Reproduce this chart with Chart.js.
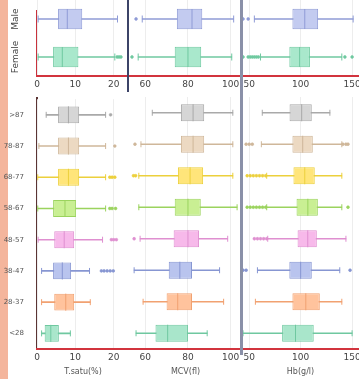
<!DOCTYPE html>
<html>
<head>
<meta charset="utf-8">
<script src="https://cdn.jsdelivr.net/npm/chart.js@4/dist/chart.umd.min.js"></script>
<style>
  html, body { margin: 0; padding: 0; background: #ffffff; overflow: hidden; }
  body { width: 359px; height: 379px; position: relative; }
  canvas { position: absolute; }
  .rule { position: absolute; }
</style>
</head>
<body>
<div class="rule" style="left:0;top:0;width:8px;height:379px;background:#f4b59c;"></div>
<div class="rule" style="left:36px;top:10px;width:2px;height:66px;background:#c8323c;"></div>
<div class="rule" style="left:36px;top:97px;width:2px;height:252px;background:#5a3434;"></div>

<canvas id="sexTsat" width="129" height="92" style="left:0;top:0;"></canvas>
<canvas id="sexMcv" width="113" height="92" style="left:129px;top:0;"></canvas>
<canvas id="sexHb" width="128" height="92" style="left:242px;top:0;"></canvas>
<canvas id="ageTsat" width="129" height="289" style="left:0;top:90px;"></canvas>
<canvas id="ageMcv" width="113" height="289" style="left:129px;top:90px;"></canvas>
<canvas id="ageHb" width="128" height="289" style="left:242px;top:90px;"></canvas>

<div class="rule" style="left:127px;top:0;width:2px;height:92px;background:#3c4468;"></div>
<div class="rule" style="left:240px;top:0;width:3px;height:355px;background:#8a90a8;"></div>

<script>
// Groups
const sexGroups = ['Male', 'Female'];
const ageGroups = ['>87', '78-87', '68-77', '58-67', '48-57', '38-47', '28-37', '<28'];

// Box statistics per group: [lower whisker, Q1, median, Q3, upper whisker]
const tsatSexStats = [[0.3, 5.5, 7.9, 11.8, 21.0], [0.3, 4.2, 6.6, 10.8, 20.3]];
const tsatSexOutliers = [[], [20.9, 21.4, 21.9]];
const mcvSexStats = [[58.6, 74.8, 81.9, 86.7, 101.4], [56.7, 73.8, 80.0, 86.2, 100.5]];
const mcvSexOutliers = [[55.7], [53.8]];
const hbSexStats = [[55, 92, 104, 117, 151], [61, 89, 99, 109, 140]];
const hbSexOutliers = [[44, 49], [44, 49, 51, 53, 55, 57, 59, 143, 150]];

const tsatAgeStats = [
  [2.4, 5.5, 8.2, 11.0, 17.9],
  [0.5, 5.5, 8.2, 11.0, 17.9],
  [0.2, 5.5, 8.2, 11.0, 17.9],
  [0.2, 4.2, 7.3, 10.2, 17.9],
  [0.3, 4.5, 7.1, 9.7, 17.1],
  [1.2, 4.2, 6.6, 8.9, 13.7],
  [1.2, 4.5, 7.5, 9.7, 13.9],
  [1.2, 2.0, 3.6, 5.7, 8.7]
];
const tsatAgeOutliers = [[19.2], [20.3], [19.0, 19.6, 20.3], [19.0, 19.6, 20.5], [19.4, 20.0, 20.7], [16.8, 17.5, 18.3, 19.1, 19.9], [], []];

const mcvAgeStats = [
  [63.3, 76.7, 82.4, 87.6, 101.0],
  [58.0, 76.7, 82.4, 87.6, 101.0],
  [57.0, 75.3, 81.0, 87.1, 101.0],
  [57.0, 73.8, 80.0, 86.0, 103.0],
  [57.6, 73.3, 80.0, 85.2, 98.6],
  [54.8, 71.0, 76.2, 81.9, 94.8],
  [59.0, 70.0, 75.2, 81.9, 96.7],
  [55.7, 64.8, 70.5, 80.0, 89.0]
];
const mcvAgeOutliers = [[], [55.2], [54.5, 55.5], [], [54.8], [], [], []];

const hbAgeStats = [
  [62.7, 89.2, 101.0, 110.8, 128.4],
  [61.8, 92.0, 102.0, 111.8, 140.0],
  [67.0, 93.0, 104.0, 113.7, 140.0],
  [67.0, 96.0, 107.0, 116.7, 140.0],
  [68.0, 97.0, 106.9, 115.7, 144.0],
  [58.0, 89.0, 100.0, 110.8, 138.0],
  [56.0, 92.0, 105.0, 118.6, 140.0],
  [44.0, 82.0, 95.0, 112.7, 150.0]
];
const hbAgeOutliers = [[], [47, 50, 53, 141, 144, 146], [48, 51, 54, 57, 60, 63, 66], [48, 51, 54, 57, 60, 63, 66, 146], [55, 58, 61, 64, 67], [44, 47, 148], [], []];

// Axis ranges and tick steps
const tsatAxis = { min: 0, max: 24, step: 10, title: 'T.satu(%)' };
const mcvAxis = { min: 52.4, max: 105.3, step: 20, title: 'MCV(fl)' };
const hbAxis = { min: 43, max: 156.7, step: 50, title: 'Hb(g/l)' };

// Group colours
const sexFill = ['#c3cbf0', '#a9e8cc'];
const sexLine = ['#8f9bd6', '#6fc9a0'];
const ageFill = ['#d6d6d6', '#ecd9c2', '#ffe57a', '#c9ef93', '#f7b9ea', '#b9c4ee', '#ffc39d', '#a9e6cb'];
const ageLine = ['#a9a9a9', '#cfb79a', '#ecd03c', '#9bd35e', '#df8fd0', '#8796d2', '#f1a171', '#6fc8a0'];

Chart.defaults.font.family = '"DejaVu Sans", Verdana, sans-serif';
Chart.defaults.color = '#444';

// Vertical group names beside the sex rows
const rotatedGroupLabels = {
  id: 'rotatedGroupLabels',
  afterDraw(chart, args, opts) {
    if (!opts.enabled) return;
    const y = chart.scales.y;
    const ctx = chart.ctx;
    ctx.save();
    ctx.fillStyle = '#444';
    ctx.font = '9px "DejaVu Sans", Verdana, sans-serif';
    ctx.textAlign = 'center';
    ctx.textBaseline = 'middle';
    chart.data.labels.forEach((lab, i) => {
      ctx.save();
      ctx.translate(16, y.getPixelForValue(i));
      ctx.rotate(-Math.PI / 2);
      ctx.fillText(lab, 0, 0);
      ctx.restore();
    });
    ctx.restore();
  }
};

// Horizontal box plot: floating bar for the box, thin bar for the whisker,
// line points for caps and median, dots for outliers.
function boxChart(id, cats, stats, outliers, fills, lines, axis, cfg) {
  const capPts = [], capCols = [], medPts = [], outPts = [], outCols = [];
  stats.forEach((s, i) => {
    capPts.push({ x: s[0], y: cats[i] }, { x: s[4], y: cats[i] });
    capCols.push(lines[i], lines[i]);
    medPts.push({ x: s[2], y: cats[i] });
    outliers[i].forEach(v => { outPts.push({ x: v, y: cats[i] }); outCols.push(lines[i]); });
  });

  return new Chart(document.getElementById(id), {
    type: 'bar',
    plugins: [rotatedGroupLabels],
    data: {
      labels: cats,
      datasets: [
        {
          type: 'bar', label: 'box', order: 1,
          data: stats.map(s => [s[1], s[3]]),
          backgroundColor: fills, borderColor: lines, borderWidth: 1,
          borderSkipped: false, grouped: false,
          barPercentage: 0.54, categoryPercentage: 1
        },
        {
          type: 'bar', label: 'whisker', order: 3,
          data: stats.map(s => [s[0], s[4]]),
          backgroundColor: lines, borderWidth: 0,
          grouped: false, barThickness: 1
        },
        {
          type: 'scatter', label: 'cap', order: 2,
          data: capPts, pointStyle: 'line', rotation: 90,
          radius: cfg.capR, borderColor: capCols, borderWidth: 1
        },
        {
          type: 'scatter', label: 'median', order: 0,
          data: medPts, pointStyle: 'line', rotation: 90,
          radius: cfg.medR, borderColor: lines, borderWidth: 1
        },
        {
          type: 'scatter', label: 'outlier', order: 0,
          data: outPts, pointStyle: 'circle', radius: 1.4,
          backgroundColor: outCols, borderColor: outCols, borderWidth: 0.6
        }
      ]
    },
    options: {
      indexAxis: 'y',
      responsive: false,
      maintainAspectRatio: false,
      animation: false,
      events: [],
      layout: { autoPadding: false, padding: { top: cfg.padTop, right: cfg.padRight, left: 0, bottom: 0 } },
      plugins: {
        legend: { display: false },
        tooltip: { enabled: false },
        rotatedGroupLabels: { enabled: !!cfg.rotated }
      },
      scales: {
        x: {
          type: 'linear', position: 'bottom',
          min: axis.min, max: axis.max,
          ticks: { stepSize: axis.step, includeBounds: false, padding: 3, color: '#444', font: { size: 9 } },
          grid: { color: '#ededed', drawTicks: false },
          border: { color: '#d2343e', width: 2 },
          title: { display: cfg.showTitle, text: axis.title, color: '#555', font: { size: 8 }, padding: { top: 2, bottom: 2 } },
          afterFit: s => { s.height = cfg.xHeight; s.paddingLeft = 0; s.paddingRight = 0; }
        },
        y: {
          type: 'category', labels: cats, offset: true,
          display: cfg.first,
          grid: { display: false },
          border: { display: false },
          ticks: { display: !cfg.rotated, autoSkip: false, padding: 5, color: '#555', font: { size: 7 } },
          afterFit: s => { s.width = cfg.first ? 37 : 0; }
        }
      }
    }
  });
}

const topCfg = { capR: 3.5, medR: 10, padTop: 0, xHeight: 16, showTitle: false };
const botCfg = { capR: 3, medR: 8.5, padTop: 7, xHeight: 30, showTitle: true };

boxChart('sexTsat', sexGroups, tsatSexStats, tsatSexOutliers, sexFill, sexLine, tsatAxis, { ...topCfg, first: true, rotated: true, padRight: 0 });
boxChart('sexMcv', sexGroups, mcvSexStats, mcvSexOutliers, sexFill, sexLine, mcvAxis, { ...topCfg, first: false, padRight: 0 });
boxChart('sexHb', sexGroups, hbSexStats, hbSexOutliers, sexFill, sexLine, hbAxis, { ...topCfg, first: false, padRight: 11 });
boxChart('ageTsat', ageGroups, tsatAgeStats, tsatAgeOutliers, ageFill, ageLine, tsatAxis, { ...botCfg, first: true, padRight: 0 });
boxChart('ageMcv', ageGroups, mcvAgeStats, mcvAgeOutliers, ageFill, ageLine, mcvAxis, { ...botCfg, first: false, padRight: 0 });
boxChart('ageHb', ageGroups, hbAgeStats, hbAgeOutliers, ageFill, ageLine, hbAxis, { ...botCfg, first: false, padRight: 11 });
</script>
</body>
</html>
